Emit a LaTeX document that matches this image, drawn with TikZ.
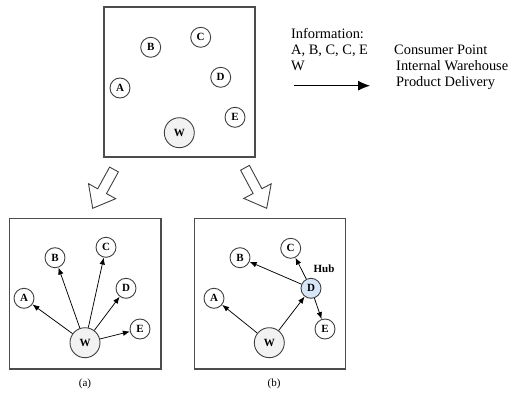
\documentclass[tikz,border=0pt]{standalone}
\usepackage{fontspec}
\setmainfont{Liberation Serif}
\usetikzlibrary{arrows.meta}

\definecolor{hubblue}{RGB}{214,230,247}
\tikzset{
  cpoint/.style={circle, draw=black!75, line width=0.9pt, minimum size=20pt, inner sep=0pt,
                 font=\fontsize{11}{12}\selectfont\bfseries},
  whouse/.style={cpoint, minimum size=30pt, fill=black!5},
  hub/.style={cpoint, fill=hubblue},
  frame/.style={draw=black!70, line width=1.1pt},
  flow/.style={-{Latex[length=7pt,width=5.5pt]}, line width=0.75pt},
  bigarrow/.style={draw=black!75, line width=0.9pt, fill=white, line join=miter},
  legend/.style={anchor=base west, inner sep=0pt, font=\fontsize{14.4}{15}\selectfont}
}

\begin{document}
\begin{tikzpicture}[x=1pt, y=-1pt]
\useasboundingbox (0,0) rectangle (511,393);

\draw[frame] (104,7) rectangle (255,157);
\node[cpoint] (ta) at (120,88) {A};
\node[cpoint] (tb) at (150.7,47.3) {B};
\node[cpoint] (tc) at (200.7,37.3) {C};
\node[cpoint] (td) at (220.7,77.3) {D};
\node[cpoint] (te) at (235,117.3) {E};
\node[whouse] (tw) at (179.3,132.7) {W};

\node[legend] (info) at (291,38.3) {Information:};
\node[legend] (ipts) at (291,55) {A, B, C, C, E};
\node[legend] (iw) at (291,70.7) {W};
\node[legend] (lpts) at (394,55) {Consumer Point};
\node[legend] (lw) at (396,70.7) {Internal Warehouse};
\node[legend] (ldel) at (396,86.7) {Product Delivery};
\coordinate (lg1) at (294,85.7);
\coordinate (lg2) at (370,85.7);
\draw[-{Latex[length=12pt,width=10pt]}, line width=0.8pt] (lg1) -- (lg2);

\draw[bigarrow] (109.6,167.1) -- (118.4,171.9) -- (106.5,193.6) -- (115.7,198.7)
  -- (92.7,208.3) -- (88.5,183.7) -- (97.7,188.8) -- cycle;
\draw[bigarrow] (240.6,170.2) -- (249.4,165.4) -- (261.9,188.7) -- (271.2,183.8)
  -- (266.7,208.3) -- (243.8,198.4) -- (253.1,193.5) -- cycle;

\draw[frame] (9.3,218.3) rectangle (161,369);
\node[cpoint] (aa) at (24,298.3) {A};
\node[cpoint] (ab) at (55,257.7) {B};
\node[cpoint] (ac) at (106,247.3) {C};
\node[cpoint] (ad) at (126,288.3) {D};
\node[cpoint] (ae) at (140,329) {E};
\node[whouse] (aw) at (85,342.7) {W};
\foreach \t in {aa,ab,ac,ad,ae}
  \draw[flow] (aw) -- (\t);
\node[font=\fontsize{11}{12}\selectfont] (capa) at (85,384.3) {(a)};

\draw[frame] (194.3,218.3) rectangle (345.7,369);
\node[cpoint] (ba) at (214,298.3) {A};
\node[cpoint] (bb) at (240,257.7) {B};
\node[cpoint] (bc) at (290.7,248.3) {C};
\node[hub] (bd) at (311,288.3) {D};
\node[cpoint] (be) at (325,329) {E};
\node[whouse] (bw) at (269.3,342.7) {W};
\node[font=\fontsize{11}{12}\selectfont\bfseries] (hublbl) at (324,268.3) {Hub};
\draw[flow] (bw) -- (ba);
\draw[flow] (bw) -- (bd);
\foreach \t in {bb,bc,be}
  \draw[flow] (bd) -- (\t);
\node[font=\fontsize{11}{12}\selectfont] (capb) at (274,384.3) {(b)};
\end{tikzpicture}
\end{document}
